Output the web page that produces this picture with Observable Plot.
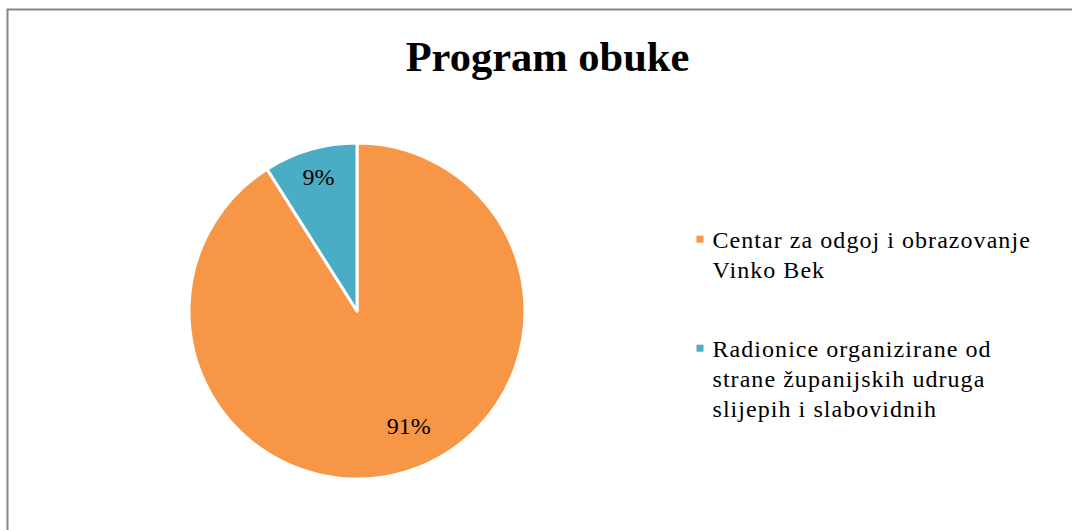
<!DOCTYPE html>
<html>
<head>
<meta charset="utf-8">
<script src="https://cdn.jsdelivr.net/npm/d3@7"></script>
<script src="https://cdn.jsdelivr.net/npm/@observablehq/plot@0.6"></script>
<style>
  html, body { margin: 0; padding: 0; background: #fff; }
  svg { display: block; }
</style>
</head>
<body>
<div id="chart"></div>
<script>
// ---- data ----
const title = "Program obuke";
const categories = [
  "Centar za odgoj i obrazovanje Vinko Bek",
  "Radionice organizirane od strane županijskih udruga slijepih i slabovidnih"
];
const legendLines = [
  "Centar za odgoj i obrazovanje\nVinko Bek",
  "Radionice organizirane od\nstrane županijskih udruga\nslijepih i slabovidnih"
];
const values = [91, 9];
const valueLabels = ["91%", "9%"];
const colors = ["#F79646", "#4BACC6"];

// ---- layout (code-side) ----
const W = 1072, H = 530;
const cx = 357, cy = 311, R = 168;
const labelLayout = [ {rf: 0.75, da: -8.1}, {rf: 0.83, da: 0.2} ];
const serif = "'Liberation Serif', 'Times New Roman', serif";

const data = categories.map((c, i) => ({category: c, value: values[i], label: valueLabels[i], legend: legendLines[i]}));

function pieMark(index, scales, vals, dims, context) {
  const g = d3.select(context.document.createElementNS("http://www.w3.org/2000/svg", "g"));
  // chart border (left & top)
  g.append("path")
    .attr("d", `M7.5,${H + 2}V9.5H${W + 2}`)
    .attr("fill", "none")
    .attr("stroke", "#868686")
    .attr("stroke-width", 2);
  const arcs = d3.pie().sort(null).value(d => d.value)(data);
  const arc = d3.arc().innerRadius(0).outerRadius(R);
  const pg = g.append("g").attr("transform", `translate(${cx},${cy})`);
  pg.selectAll("path.slice").data(arcs).join("path")
    .attr("class", "slice")
    .attr("d", arc)
    .attr("fill", d => scales.color(d.data.category))
    .attr("stroke", "#fff")
    .attr("stroke-width", 3)
    .attr("stroke-linejoin", "round");
  pg.selectAll("text").data(arcs).join("text")
    .attr("transform", (d, i) => {
      const a = (d.startAngle + d.endAngle) / 2 + labelLayout[i].da * Math.PI / 180;
      const r = labelLayout[i].rf * R;
      return `translate(${r * Math.sin(a)},${-r * Math.cos(a)})`;
    })
    .attr("text-anchor", "middle")
    .attr("dy", "0.35em")
    .attr("font-family", serif)
    .attr("font-size", 24)
    .attr("fill", "#000")
    .text(d => d.data.label);
  return g.node();
}

const legendX = 712;
const legendTop = [226, 335];
const legendMarks = data.flatMap((d, i) => [
  Plot.dot([d], {
    frameAnchor: "top-left", dx: 699.5, dy: 238.7 + (legendTop[i] - legendTop[0]),
    symbol: "square", r: 3.95, fill: d => d.category, stroke: null
  }),
  Plot.text([d], {
    frameAnchor: "top-left", dx: legendX, dy: legendTop[i],
    text: "legend", textAnchor: "start", lineAnchor: "top",
    lineHeight: 30 / 24, fontSize: 24, fontFamily: serif, fill: "#000"
  })
]);

const chart = Plot.plot({
  width: W,
  height: H,
  margin: 0,
  style: {background: "#fff", overflow: "visible"},
  color: {domain: categories, range: colors},
  marks: [
    pieMark,
    Plot.text([title], {
      frameAnchor: "top-left", dx: 547, dy: 70,
      text: d => d, textAnchor: "middle", lineAnchor: "bottom",
      fontSize: 42.5, fontWeight: "bold", fontFamily: serif, fill: "#000"
    }),
    ...legendMarks
  ]
});
const legendFlat = legendLines.map(l => l.replace(/\n/g, ""));
d3.select(chart).selectAll("text")
  .filter(function () { return legendFlat.includes(this.textContent); })
  .style("letter-spacing", "1.05px");
document.getElementById("chart").appendChild(chart);
</script>
</body>
</html>
